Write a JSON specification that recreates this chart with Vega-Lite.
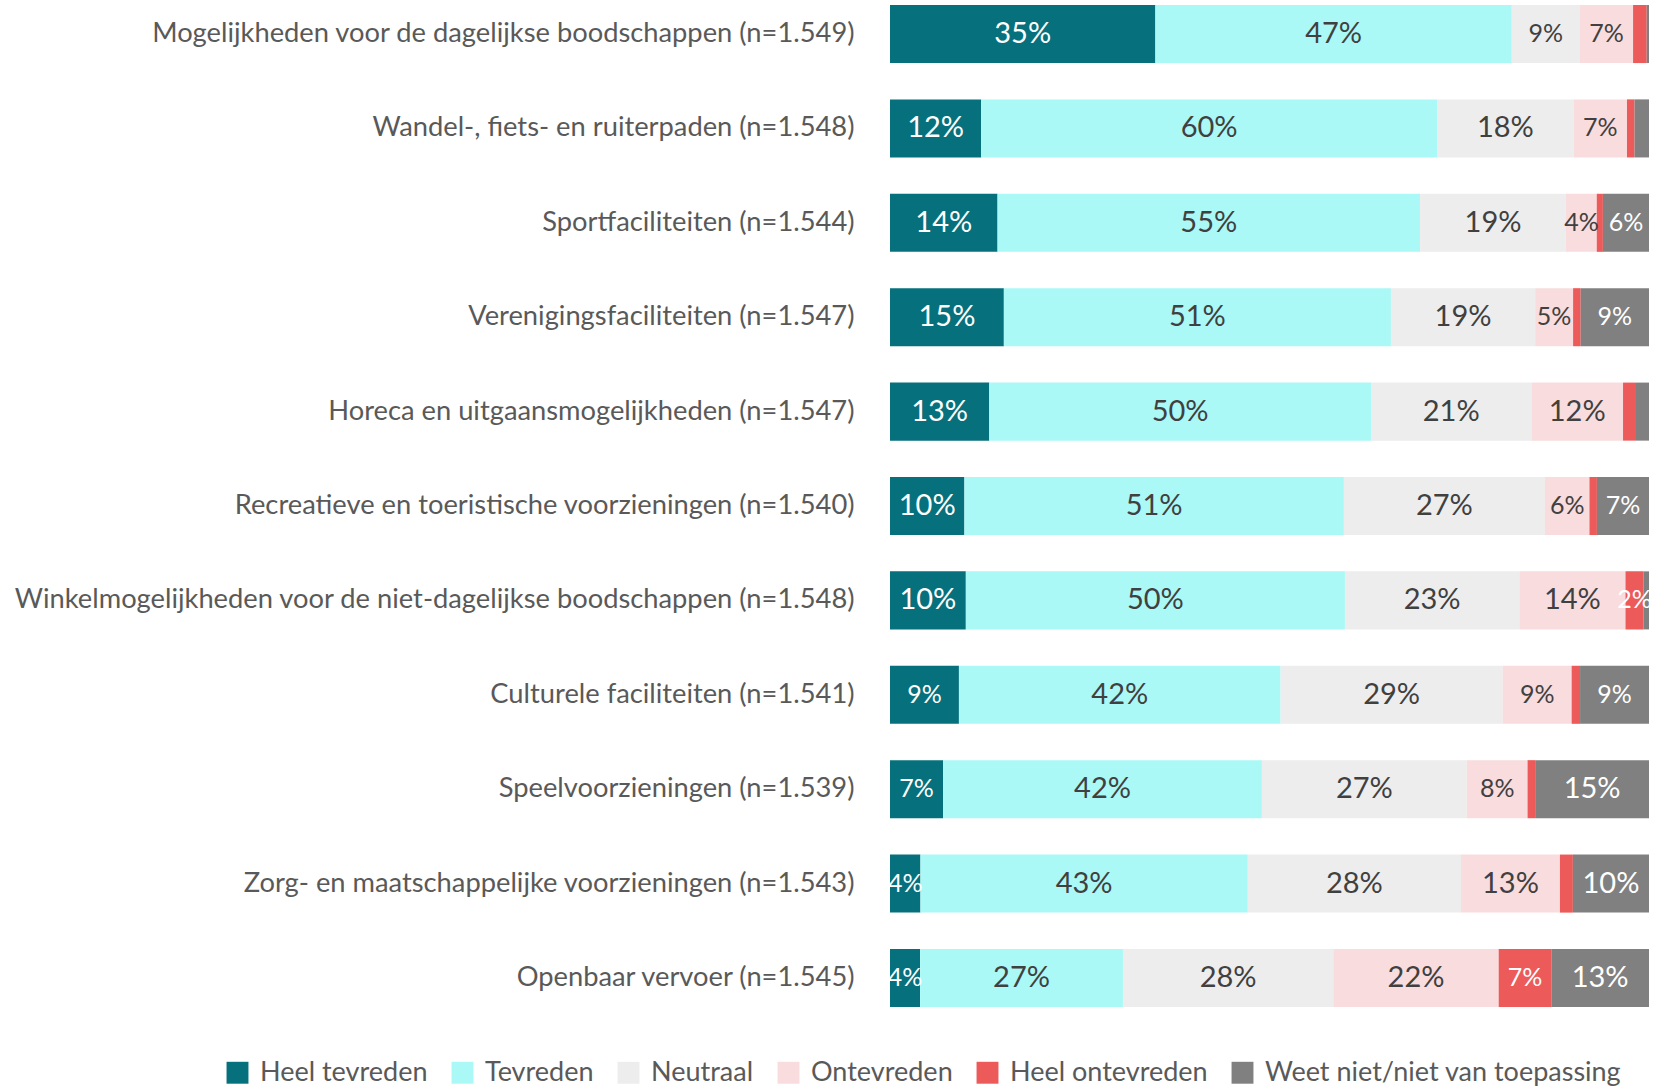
{
  "$schema": "https://vega.github.io/schema/vega-lite/v6.json",
  "autosize": {"type": "none"},
  "padding": {"left": 890, "top": 5, "right": 21, "bottom": 81},
  "width": 759,
  "height": 1002,
  "config": {"view": {"stroke": null}, "font": "Lato"},
  "data": {"values": [
    {"item": "Mogelijkheden voor de dagelijkse boodschappen (n=1.549)", "cat": "Heel tevreden", "o": 1, "value": 35},
    {"item": "Mogelijkheden voor de dagelijkse boodschappen (n=1.549)", "cat": "Tevreden", "o": 2, "value": 47},
    {"item": "Mogelijkheden voor de dagelijkse boodschappen (n=1.549)", "cat": "Neutraal", "o": 3, "value": 9},
    {"item": "Mogelijkheden voor de dagelijkse boodschappen (n=1.549)", "cat": "Ontevreden", "o": 4, "value": 7},
    {"item": "Mogelijkheden voor de dagelijkse boodschappen (n=1.549)", "cat": "Heel ontevreden", "o": 5, "value": 1.8},
    {"item": "Mogelijkheden voor de dagelijkse boodschappen (n=1.549)", "cat": "Weet niet/niet van toepassing", "o": 6, "value": 0.3},
    {"item": "Wandel-, fiets- en ruiterpaden (n=1.548)", "cat": "Heel tevreden", "o": 1, "value": 12},
    {"item": "Wandel-, fiets- en ruiterpaden (n=1.548)", "cat": "Tevreden", "o": 2, "value": 60},
    {"item": "Wandel-, fiets- en ruiterpaden (n=1.548)", "cat": "Neutraal", "o": 3, "value": 18},
    {"item": "Wandel-, fiets- en ruiterpaden (n=1.548)", "cat": "Ontevreden", "o": 4, "value": 7},
    {"item": "Wandel-, fiets- en ruiterpaden (n=1.548)", "cat": "Heel ontevreden", "o": 5, "value": 1},
    {"item": "Wandel-, fiets- en ruiterpaden (n=1.548)", "cat": "Weet niet/niet van toepassing", "o": 6, "value": 1.9},
    {"item": "Sportfaciliteiten (n=1.544)", "cat": "Heel tevreden", "o": 1, "value": 14},
    {"item": "Sportfaciliteiten (n=1.544)", "cat": "Tevreden", "o": 2, "value": 55},
    {"item": "Sportfaciliteiten (n=1.544)", "cat": "Neutraal", "o": 3, "value": 19},
    {"item": "Sportfaciliteiten (n=1.544)", "cat": "Ontevreden", "o": 4, "value": 4},
    {"item": "Sportfaciliteiten (n=1.544)", "cat": "Heel ontevreden", "o": 5, "value": 0.8},
    {"item": "Sportfaciliteiten (n=1.544)", "cat": "Weet niet/niet van toepassing", "o": 6, "value": 6},
    {"item": "Verenigingsfaciliteiten (n=1.547)", "cat": "Heel tevreden", "o": 1, "value": 15},
    {"item": "Verenigingsfaciliteiten (n=1.547)", "cat": "Tevreden", "o": 2, "value": 51},
    {"item": "Verenigingsfaciliteiten (n=1.547)", "cat": "Neutraal", "o": 3, "value": 19},
    {"item": "Verenigingsfaciliteiten (n=1.547)", "cat": "Ontevreden", "o": 4, "value": 5},
    {"item": "Verenigingsfaciliteiten (n=1.547)", "cat": "Heel ontevreden", "o": 5, "value": 1},
    {"item": "Verenigingsfaciliteiten (n=1.547)", "cat": "Weet niet/niet van toepassing", "o": 6, "value": 9},
    {"item": "Horeca en uitgaansmogelijkheden (n=1.547)", "cat": "Heel tevreden", "o": 1, "value": 13},
    {"item": "Horeca en uitgaansmogelijkheden (n=1.547)", "cat": "Tevreden", "o": 2, "value": 50},
    {"item": "Horeca en uitgaansmogelijkheden (n=1.547)", "cat": "Neutraal", "o": 3, "value": 21},
    {"item": "Horeca en uitgaansmogelijkheden (n=1.547)", "cat": "Ontevreden", "o": 4, "value": 12},
    {"item": "Horeca en uitgaansmogelijkheden (n=1.547)", "cat": "Heel ontevreden", "o": 5, "value": 1.7},
    {"item": "Horeca en uitgaansmogelijkheden (n=1.547)", "cat": "Weet niet/niet van toepassing", "o": 6, "value": 1.7},
    {"item": "Recreatieve en toeristische voorzieningen (n=1.540)", "cat": "Heel tevreden", "o": 1, "value": 10},
    {"item": "Recreatieve en toeristische voorzieningen (n=1.540)", "cat": "Tevreden", "o": 2, "value": 51},
    {"item": "Recreatieve en toeristische voorzieningen (n=1.540)", "cat": "Neutraal", "o": 3, "value": 27},
    {"item": "Recreatieve en toeristische voorzieningen (n=1.540)", "cat": "Ontevreden", "o": 4, "value": 6},
    {"item": "Recreatieve en toeristische voorzieningen (n=1.540)", "cat": "Heel ontevreden", "o": 5, "value": 1},
    {"item": "Recreatieve en toeristische voorzieningen (n=1.540)", "cat": "Weet niet/niet van toepassing", "o": 6, "value": 7},
    {"item": "Winkelmogelijkheden voor de niet-dagelijkse boodschappen (n=1.548)", "cat": "Heel tevreden", "o": 1, "value": 10},
    {"item": "Winkelmogelijkheden voor de niet-dagelijkse boodschappen (n=1.548)", "cat": "Tevreden", "o": 2, "value": 50},
    {"item": "Winkelmogelijkheden voor de niet-dagelijkse boodschappen (n=1.548)", "cat": "Neutraal", "o": 3, "value": 23},
    {"item": "Winkelmogelijkheden voor de niet-dagelijkse boodschappen (n=1.548)", "cat": "Ontevreden", "o": 4, "value": 14},
    {"item": "Winkelmogelijkheden voor de niet-dagelijkse boodschappen (n=1.548)", "cat": "Heel ontevreden", "o": 5, "value": 2.4},
    {"item": "Winkelmogelijkheden voor de niet-dagelijkse boodschappen (n=1.548)", "cat": "Weet niet/niet van toepassing", "o": 6, "value": 0.7},
    {"item": "Culturele faciliteiten (n=1.541)", "cat": "Heel tevreden", "o": 1, "value": 9},
    {"item": "Culturele faciliteiten (n=1.541)", "cat": "Tevreden", "o": 2, "value": 42},
    {"item": "Culturele faciliteiten (n=1.541)", "cat": "Neutraal", "o": 3, "value": 29},
    {"item": "Culturele faciliteiten (n=1.541)", "cat": "Ontevreden", "o": 4, "value": 9},
    {"item": "Culturele faciliteiten (n=1.541)", "cat": "Heel ontevreden", "o": 5, "value": 1.1},
    {"item": "Culturele faciliteiten (n=1.541)", "cat": "Weet niet/niet van toepassing", "o": 6, "value": 9},
    {"item": "Speelvoorzieningen (n=1.539)", "cat": "Heel tevreden", "o": 1, "value": 7},
    {"item": "Speelvoorzieningen (n=1.539)", "cat": "Tevreden", "o": 2, "value": 42},
    {"item": "Speelvoorzieningen (n=1.539)", "cat": "Neutraal", "o": 3, "value": 27},
    {"item": "Speelvoorzieningen (n=1.539)", "cat": "Ontevreden", "o": 4, "value": 8},
    {"item": "Speelvoorzieningen (n=1.539)", "cat": "Heel ontevreden", "o": 5, "value": 1},
    {"item": "Speelvoorzieningen (n=1.539)", "cat": "Weet niet/niet van toepassing", "o": 6, "value": 15},
    {"item": "Zorg- en maatschappelijke voorzieningen (n=1.543)", "cat": "Heel tevreden", "o": 1, "value": 4},
    {"item": "Zorg- en maatschappelijke voorzieningen (n=1.543)", "cat": "Tevreden", "o": 2, "value": 43},
    {"item": "Zorg- en maatschappelijke voorzieningen (n=1.543)", "cat": "Neutraal", "o": 3, "value": 28},
    {"item": "Zorg- en maatschappelijke voorzieningen (n=1.543)", "cat": "Ontevreden", "o": 4, "value": 13},
    {"item": "Zorg- en maatschappelijke voorzieningen (n=1.543)", "cat": "Heel ontevreden", "o": 5, "value": 1.7},
    {"item": "Zorg- en maatschappelijke voorzieningen (n=1.543)", "cat": "Weet niet/niet van toepassing", "o": 6, "value": 10},
    {"item": "Openbaar vervoer (n=1.545)", "cat": "Heel tevreden", "o": 1, "value": 4},
    {"item": "Openbaar vervoer (n=1.545)", "cat": "Tevreden", "o": 2, "value": 27},
    {"item": "Openbaar vervoer (n=1.545)", "cat": "Neutraal", "o": 3, "value": 28},
    {"item": "Openbaar vervoer (n=1.545)", "cat": "Ontevreden", "o": 4, "value": 22},
    {"item": "Openbaar vervoer (n=1.545)", "cat": "Heel ontevreden", "o": 5, "value": 7},
    {"item": "Openbaar vervoer (n=1.545)", "cat": "Weet niet/niet van toepassing", "o": 6, "value": 13}
  ]},
  "encoding": {
    "y": {
      "field": "item", "type": "nominal", "sort": null, "title": null,
      "scale": {"paddingInner": 0.385, "paddingOuter": 0.0},
      "axis": {"domain": false, "ticks": false, "labelPadding": 36, "labelFontSize": 27.3, "labelColor": "#595959", "labelLimit": 0, "labelFont": "Lato"}
    },
    "x": {
      "field": "value", "type": "quantitative", "stack": "normalize", "title": null, "axis": null,
      "scale": {"domain": [0, 1], "nice": false}
    },
    "order": {"field": "o", "type": "quantitative"}
  },
  "layer": [
    {
      "mark": {"type": "bar"},
      "encoding": {
        "color": {
          "field": "cat", "type": "nominal", "title": null,
          "scale": {
            "domain": ["Heel tevreden", "Tevreden", "Neutraal", "Ontevreden", "Heel ontevreden", "Weet niet/niet van toepassing"],
            "range": ["#06707C", "#ABF9F6", "#EDEDED", "#F9DCDD", "#EC5A5A", "#808080"]
          },
          "legend": {
            "orient": "none", "direction": "horizontal", "legendX": -666, "legendY": 1054,
            "symbolType": "square", "symbolSize": 480, "symbolStrokeWidth": 0,
            "labelFontSize": 27, "labelColor": "#595959", "labelFont": "Lato", "labelLimit": 0,
            "labelOffset": 9, "columnPadding": 21
          }
        }
      }
    },
    {
      "transform": [
        {"calculate": "datum.value >= 2 ? format(datum.value, '.0f') + '%' : ''", "as": "label"}
      ],
      "mark": {"type": "text", "font": "Lato", "baseline": "middle"},
      "encoding": {
        "text": {"field": "label", "type": "nominal"},
        "x": {"field": "value", "type": "quantitative", "stack": "normalize", "bandPosition": 0.5},
        "detail": {"field": "cat"},
        "size": {"condition": {"test": "datum.value < 10", "value": 25}, "value": 29},
        "color": {"condition": {"test": "datum.cat === 'Heel tevreden' || datum.cat === 'Heel ontevreden' || datum.cat === 'Weet niet/niet van toepassing'", "value": "#FFFFFF"}, "value": "#404040"}
      }
    }
  ]
}
